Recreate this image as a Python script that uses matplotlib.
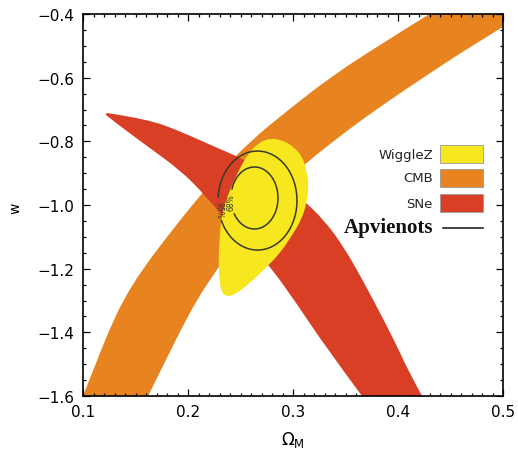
import numpy as np
import matplotlib
matplotlib.use("Agg")
import matplotlib.pyplot as plt
from matplotlib.patches import Rectangle, PathPatch
from matplotlib.path import Path
from matplotlib.ticker import MultipleLocator, FormatStrFormatter, FuncFormatter

plt.rcParams['font.family'] = ['DejaVu Sans']

# ---- CMB constraint band (edges given as Omega_M at each w) ----
cmb_w = [-1.6, -1.5, -1.4, -1.3, -1.2, -1.1, -1.0, -0.9, -0.8, -0.7, -0.6, -0.5, -0.4]
cmb_left_om = [0.100, 0.112, 0.124, 0.138, 0.157, 0.180, 0.204, 0.230, 0.259, 0.296, 0.335, 0.381, 0.430]
cmb_right_om = [0.162, 0.177, 0.192, 0.208, 0.228, 0.250, 0.274, 0.301, 0.338, 0.379, 0.424, 0.470, 0.520]

# ---- SNe constraint band ----
sne_upper_om = [0.1229, 0.1610, 0.1924, 0.2238, 0.2524, 0.2800, 0.3067, 0.3305, 0.3495,
                0.3657, 0.3810, 0.3971, 0.4114, 0.4229]
sne_upper_w = [-0.711, -0.730, -0.768, -0.815, -0.855, -0.909, -0.975, -1.050, -1.138,
               -1.232, -1.327, -1.430, -1.531, -1.600]
sne_lower_om = [0.1215, 0.1276, 0.161, 0.1924, 0.2162, 0.240, 0.2752, 0.3038, 0.3305, 0.3657]
sne_lower_w = [-0.716, -0.733, -0.815, -0.890, -0.969, -1.063, -1.179, -1.311, -1.443, -1.600]

# ---- WiggleZ BAO region outline ----
wig_om = [0.278, 0.290, 0.301, 0.309, 0.313, 0.315, 0.313, 0.308, 0.298, 0.287, 0.273, 0.259,
          0.247, 0.238, 0.232, 0.230, 0.229, 0.230, 0.232, 0.239, 0.248, 0.257, 0.267]
wig_w = [-0.790, -0.796, -0.818, -0.849, -0.893, -0.944, -0.994, -1.047, -1.101, -1.154, -1.201, -1.245,
         -1.276, -1.289, -1.276, -1.239, -1.176, -1.107, -1.031, -0.959, -0.893, -0.840, -0.805]

# ---- combined likelihood contours: centre, semi-axes, label ----
cont_labels = ['68%', '95%']
cont_center_om = [0.2633, 0.2662]
cont_center_w = [-0.978, -0.986]
cont_semi_om = [0.0224, 0.0376]
cont_semi_w = [0.0974, 0.1555]

legend_names = ['WiggleZ', 'CMB', 'SNe']
combined_name = 'Apvienots'

col_wig = '#f6e71f'
col_cmb = '#e8841f'
col_sne = '#d83f24'
col_line = '#3a3a2a'


def smooth_open(xs, ys):
    """Quadratic B-spline style path segments through an open outline (ends kept)."""
    p = list(zip(xs, ys))
    verts, codes = [p[0]], []
    for i in range(1, len(p) - 2):
        mid = ((p[i][0] + p[i + 1][0]) / 2, (p[i][1] + p[i + 1][1]) / 2)
        verts += [p[i], mid]
        codes += [Path.CURVE3, Path.CURVE3]
    verts += [p[-2], p[-1]]
    codes += [Path.CURVE3, Path.CURVE3]
    return verts, codes


def band_path(x1, y1, x2, y2):
    """Closed region: edge 1 forward, straight join, edge 2 backward."""
    v1, c1 = smooth_open(x1, y1)
    v2, c2 = smooth_open(x2[::-1], y2[::-1])
    verts = v1 + v2 + [v1[0]]
    codes = [Path.MOVETO] + c1 + [Path.LINETO] + c2 + [Path.CLOSEPOLY]
    return Path(verts, codes)


def closed_path(xs, ys):
    p = list(zip(xs, ys))
    n = len(p)
    mids = [((p[i][0] + p[(i + 1) % n][0]) / 2, (p[i][1] + p[(i + 1) % n][1]) / 2) for i in range(n)]
    verts, codes = [mids[-1]], [Path.MOVETO]
    for i in range(n):
        verts += [p[i], mids[i]]
        codes += [Path.CURVE3, Path.CURVE3]
    verts.append(mids[-1])
    codes.append(Path.CLOSEPOLY)
    return Path(verts, codes)


fig = plt.figure(figsize=(5.18, 4.52), dpi=100)
ax = fig.add_axes([83 / 518, 55 / 452, 420 / 518, 382 / 452])

# CMB band
ax.add_patch(PathPatch(band_path(cmb_left_om, cmb_w, cmb_right_om, cmb_w),
                       facecolor=col_cmb, lw=0, zorder=1))
# SNe band
ax.add_patch(PathPatch(band_path(sne_upper_om, sne_upper_w, sne_lower_om, sne_lower_w),
                       facecolor=col_sne, lw=0, zorder=2))
# WiggleZ
ax.add_patch(PathPatch(closed_path(wig_om, wig_w), facecolor=col_wig, lw=0, zorder=3))

# contours with a gap where the label sits
gaps = [(163, 211), (176, 204)]
for lab, cx, cy, a, b, (g0, g1) in zip(cont_labels, cont_center_om, cont_center_w,
                                      cont_semi_om, cont_semi_w, gaps):
    t = np.radians(np.linspace(g1, g0 + 360, 300))
    ax.plot(cx + a * np.cos(t), cy + b * np.sin(t), color=col_line, lw=1.1, zorder=4)
    tm = np.radians(0.5 * (g0 + g1))
    ax.text(cx + a * np.cos(tm), cy + b * np.sin(tm), lab, fontsize=5.5, color=col_line,
            rotation=90 if lab == '68%' else -90, ha='center', va='center', zorder=5)

ax.set_xlim(0.1, 0.5)
ax.set_ylim(-1.6, -0.4)
ax.xaxis.set_major_locator(MultipleLocator(0.1))
ax.xaxis.set_minor_locator(MultipleLocator(0.01))
ax.yaxis.set_major_locator(MultipleLocator(0.2))
ax.yaxis.set_minor_locator(MultipleLocator(0.05))
ax.tick_params(which='both', direction='in', top=True, right=True, width=0.9, colors='black')
ax.tick_params(which='major', length=5, labelsize=11, pad=6)
ax.tick_params(which='minor', length=2.5)
for s in ax.spines.values():
    s.set_linewidth(1.2)
ax.xaxis.set_major_formatter(FormatStrFormatter('%.1f'))
ax.yaxis.set_major_formatter(FuncFormatter(lambda v, p: f'{v:.1f}'.replace('-', '\u2212')))

# legend
legend_colors = [col_wig, col_cmb, col_sne]
legend_y = [0.6335, 0.5707, 0.5052]
for name, c, y in zip(legend_names, legend_colors, legend_y):
    ax.add_patch(Rectangle((0.85, y - 0.023), 0.1024, 0.046, transform=ax.transAxes,
                           facecolor=c, edgecolor='#9a9a9a', lw=0.6, zorder=6))
    ax.text(0.833, y, name, transform=ax.transAxes, ha='right', va='center',
            fontsize=9.5, color='#222222', zorder=6)
ax.text(0.833, 0.4424, combined_name, transform=ax.transAxes, ha='right', va='center',
        fontsize=15, family='Liberation Serif', weight='bold', color='#111111', zorder=6)
ax.plot([0.857, 0.952], [0.4398, 0.4398], transform=ax.transAxes, color='#111111', lw=1.1, zorder=6)

fig.text(15 / 518, 1 - 208 / 452, 'w', rotation=90, ha='center', va='center', fontsize=10)
fig.text(293 / 518, 1 - 445 / 452, r'$\Omega_{\rm M}$', ha='center', va='baseline', fontsize=12)

fig.savefig('out.png', dpi=100)
